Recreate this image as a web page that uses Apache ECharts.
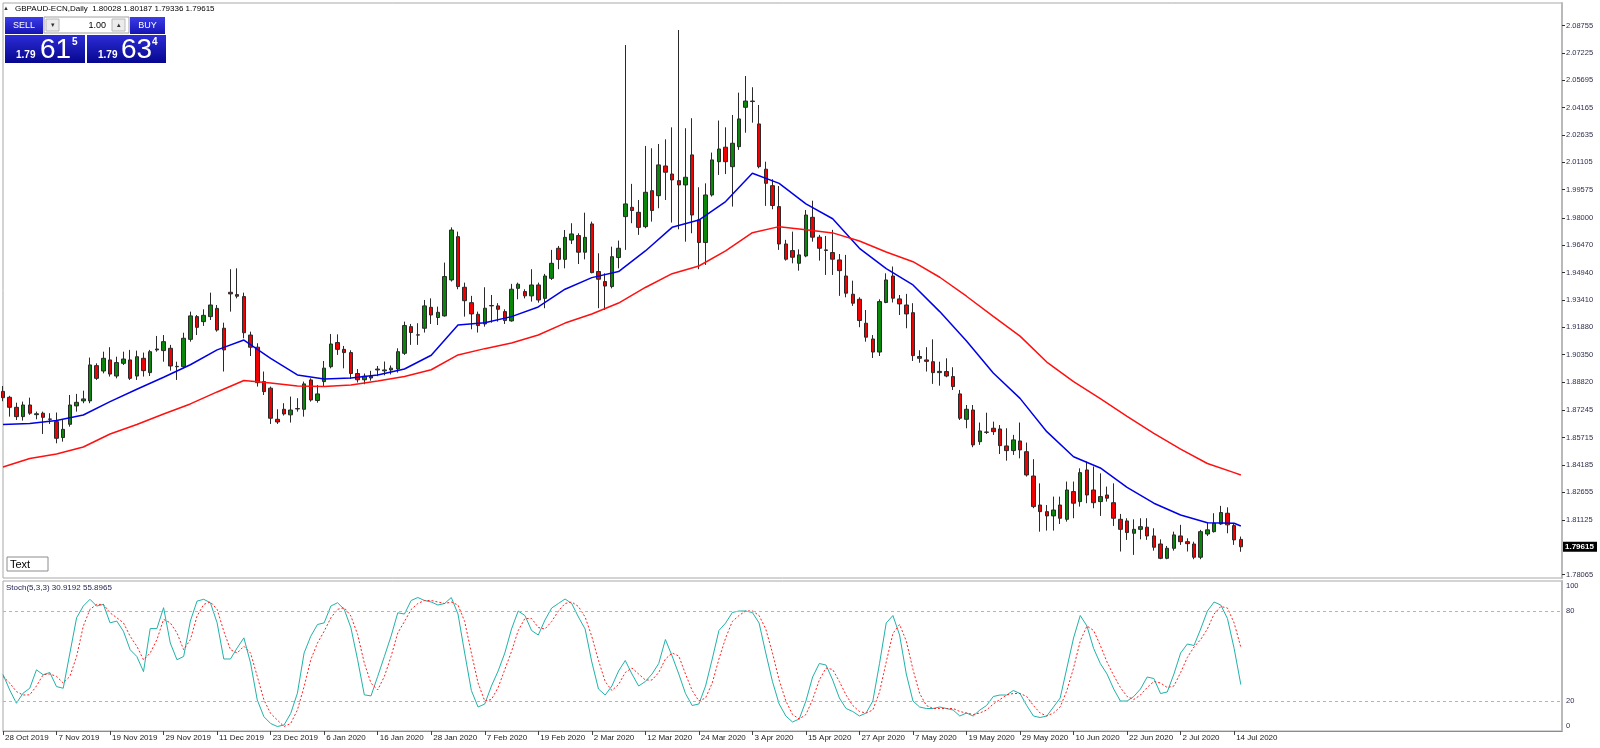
<!DOCTYPE html>
<html>
<head>
<meta charset="utf-8">
<title>GBPAUD-ECN,Daily</title>
<script src="https://cdn.jsdelivr.net/npm/echarts@6/dist/echarts.min.js"></script>
<style>
html, body { margin: 0; padding: 0; background: #fff; }
#main { width: 1600px; height: 748px; }
</style>
</head>
<body>
<div id="main"></div>
<script>
// bars: 28 Oct 2019 .. 15 Jul 2020, one per trading day
var tickLabels = ['28 Oct 2019', '7 Nov 2019', '19 Nov 2019', '29 Nov 2019', '11 Dec 2019', '23 Dec 2019',
  '6 Jan 2020', '16 Jan 2020', '28 Jan 2020', '7 Feb 2020', '19 Feb 2020', '2 Mar 2020', '12 Mar 2020',
  '24 Mar 2020', '3 Apr 2020', '15 Apr 2020', '27 Apr 2020', '7 May 2020', '19 May 2020', '29 May 2020',
  '10 Jun 2020', '22 Jun 2020', '2 Jul 2020', '14 Jul 2020'];

var opens = [
  1.8830, 1.8797, 1.8741, 1.8689, 1.8754, 1.8700, 1.8708, 1.8676, 1.8661, 1.8572,
  1.8646, 1.8749, 1.8777, 1.8777, 1.8974, 1.8944, 1.9006, 1.8916, 1.8987, 1.9006,
  1.8916, 1.9015, 1.8935, 1.9062, 1.9058, 1.9071, 1.8968, 1.8968, 1.9121, 1.9248,
  1.9220, 1.9248, 1.9294, 1.9183, 1.9384, 1.9371, 1.9360, 1.9145, 1.9077, 1.8885,
  1.8848, 1.8674, 1.8730, 1.8699, 1.8734, 1.8730, 1.8894, 1.8779, 1.8885, 1.8968,
  1.9103, 1.9065, 1.9047, 1.8930, 1.8895, 1.8915, 1.8950, 1.8945, 1.8950, 1.8955,
  1.9043, 1.9192, 1.9146, 1.9183, 1.9300, 1.9243, 1.9252, 1.9453, 1.9695, 1.9412,
  1.9326, 1.9261, 1.9207, 1.9308, 1.9308, 1.9276, 1.9224, 1.9406, 1.9388, 1.9364,
  1.9425, 1.9350, 1.9462, 1.9630, 1.9568, 1.9676, 1.9701, 1.9608, 1.9766, 1.9500,
  1.9444, 1.9416, 1.9578, 1.9807, 1.9859, 1.9831, 1.9751, 1.9952, 1.9924, 2.0090,
  2.0045, 2.0008, 1.9984, 2.0152, 1.9789, 1.9662, 1.9928, 2.0114, 2.0195, 2.0086,
  2.0198, 2.0418, 2.0453, 2.0325, 2.0072, 1.9980, 1.9863, 1.9654, 1.9617, 1.9546,
  1.9587, 1.9803, 1.9692, 1.9621, 1.9606, 1.9565, 1.9475, 1.9373, 1.9345, 1.9211,
  1.9123, 1.9050, 1.9327, 1.9475, 1.9347, 1.9313, 1.9270, 1.9025, 1.9006, 1.8996,
  1.8935, 1.8941, 1.8913, 1.8816, 1.8674, 1.8726, 1.8549, 1.8603, 1.8624, 1.8620,
  1.8525, 1.8499, 1.8553, 1.8493, 1.8357, 1.8195, 1.8158, 1.8134, 1.8195, 1.8115,
  1.8270, 1.8214, 1.8391, 1.8279, 1.8214, 1.8251, 1.8208, 1.8115, 1.8106, 1.8037,
  1.8059, 1.8071, 1.8022, 1.7977, 1.7897, 1.7953, 1.8022, 1.7990, 1.7977, 1.7903,
  1.8033, 1.8046, 1.8089, 1.8149, 1.8080, 1.80028
];
var highs = [
  1.8860, 1.8805, 1.8767, 1.8773, 1.8795, 1.8717, 1.8717, 1.8708, 1.8712, 1.8670,
  1.8810, 1.8816, 1.8834, 1.9019, 1.8987, 1.9052, 1.9077, 1.9024, 1.9052, 1.9062,
  1.9058, 1.9047, 1.9062, 1.9140, 1.9145, 1.9090, 1.8996, 1.9158, 1.9276, 1.9257,
  1.9289, 1.9382, 1.9313, 1.9214, 1.9513, 1.9518, 1.9382, 1.9164, 1.9099, 1.8941,
  1.8857, 1.8730, 1.8764, 1.8801, 1.8792, 1.8885, 1.8903, 1.8866, 1.9000, 1.9151,
  1.9149, 1.9084, 1.9060, 1.8955, 1.8930, 1.8945, 1.8972, 1.8997, 1.8975, 1.9071,
  1.9220, 1.9207, 1.9211, 1.9341, 1.9350, 1.9304, 1.9550, 1.9747, 1.9723, 1.9438,
  1.9364, 1.9276, 1.9412, 1.9369, 1.9323, 1.9289, 1.9431, 1.9438, 1.9401, 1.9513,
  1.9438, 1.9487, 1.9621, 1.9643, 1.9732, 1.9770, 1.9714, 1.9829, 1.9779, 1.9602,
  1.9490, 1.9639, 1.9673, 2.0766, 1.9990, 1.9900, 2.0202, 2.0189, 2.0213, 2.0239,
  2.0306, 2.0850, 2.0301, 2.0357, 1.9971, 1.9993, 2.0165, 2.0344, 2.0306, 2.0375,
  2.0500, 2.0593, 2.0530, 2.0431, 2.0114, 2.0016, 1.9978, 1.9677, 1.9723, 1.9624,
  1.9844, 1.9896, 1.9705, 1.9699, 1.9733, 1.9598, 1.9593, 1.9449, 1.9356, 1.9285,
  1.9145, 1.9345, 1.9490, 1.9528, 1.9369, 1.9375, 1.9323, 1.9060, 1.9077, 1.9121,
  1.8996, 1.9015, 1.8965, 1.8838, 1.8754, 1.8754, 1.8656, 1.8711, 1.8661, 1.8642,
  1.8624, 1.8587, 1.8656, 1.8544, 1.8451, 1.8316, 1.8195, 1.8242, 1.8242, 1.8326,
  1.8326, 1.8400, 1.8438, 1.8410, 1.8372, 1.8298, 1.8316, 1.8145, 1.8121, 1.8115,
  1.8121, 1.8121, 1.8065, 1.8003, 1.7966, 1.8046, 1.8084, 1.8009, 1.7990, 1.8056,
  1.8097, 1.8149, 1.8190, 1.8182, 1.8093, 1.80187
];
var lows = [
  1.8775, 1.8689, 1.8670, 1.8667, 1.8699, 1.8674, 1.8592, 1.8648, 1.8540, 1.8549,
  1.8633, 1.8717, 1.8764, 1.8764, 1.8894, 1.8931, 1.8913, 1.8903, 1.8978, 1.8894,
  1.8894, 1.8913, 1.8916, 1.9052, 1.8996, 1.8946, 1.8894, 1.8959, 1.9108, 1.9145,
  1.9196, 1.9229, 1.9164, 1.8941, 1.9276, 1.9350, 1.9127, 1.9028, 1.8857, 1.8810,
  1.8648, 1.8648, 1.8695, 1.8656, 1.8717, 1.8689, 1.8773, 1.8767, 1.8860, 1.8959,
  1.9034, 1.8959, 1.8900, 1.8880, 1.8870, 1.8890, 1.8915, 1.8920, 1.8925, 1.8935,
  1.9034, 1.9090, 1.9090, 1.9159, 1.9207, 1.9201, 1.9248, 1.9444, 1.9401, 1.9248,
  1.9177, 1.9159, 1.9192, 1.9214, 1.9220, 1.9207, 1.9220, 1.9345, 1.9350, 1.9332,
  1.9326, 1.9295, 1.9453, 1.9513, 1.9518, 1.9654, 1.9542, 1.9568, 1.9490, 1.9295,
  1.9285, 1.9406, 1.9518, 1.9621, 1.9770, 1.9705, 1.9742, 1.9779, 1.9854, 1.9900,
  1.9774, 1.9736, 1.9667, 1.9714, 1.9513, 1.9537, 1.9919, 2.0040, 2.0045, 1.9863,
  2.0180, 2.0276, 2.0332, 2.0077, 1.9867, 1.9848, 1.9621, 1.9561, 1.9546, 1.9505,
  1.9580, 1.9667, 1.9561, 1.9481, 1.9481, 1.9364, 1.9356, 1.9308, 1.9189, 1.9108,
  1.9017, 1.9028, 1.9323, 1.9327, 1.9257, 1.9183, 1.9000, 1.8990, 1.8941, 1.8872,
  1.8862, 1.8909, 1.8838, 1.8670, 1.8624, 1.8518, 1.8531, 1.8592, 1.8587, 1.8480,
  1.8443, 1.8475, 1.8456, 1.8354, 1.8177, 1.8046, 1.8052, 1.8052, 1.8089, 1.8102,
  1.8121, 1.8186, 1.8205, 1.8177, 1.8134, 1.8214, 1.8078, 1.7935, 1.8000, 1.7916,
  1.8003, 1.8000, 1.7940, 1.7892, 1.7892, 1.7940, 1.7972, 1.7935, 1.7892, 1.7892,
  1.8022, 1.8041, 1.8084, 1.8037, 1.7972, 1.79336
];
var closes = [
  1.8795, 1.8741, 1.8689, 1.8754, 1.8708, 1.8705, 1.8685, 1.8674, 1.8568, 1.8618,
  1.8754, 1.8769, 1.8788, 1.8978, 1.8903, 1.9015, 1.8927, 1.8991, 1.9011, 1.8903,
  1.9024, 1.8946, 1.9052, 1.9067, 1.9108, 1.8972, 1.8970, 1.9127, 1.9252, 1.9188,
  1.9255, 1.9313, 1.9173, 1.9062, 1.9375, 1.9362, 1.9158, 1.9077, 1.8879, 1.8829,
  1.8680, 1.8659, 1.8704, 1.8726, 1.8732, 1.8872, 1.8782, 1.8816, 1.8960, 1.9095,
  1.9065, 1.9047, 1.8930, 1.8895, 1.8915, 1.8905, 1.8955, 1.8950, 1.8960, 1.9052,
  1.9198, 1.9159, 1.9145, 1.9308, 1.9257, 1.9272, 1.9472, 1.9732, 1.9416, 1.9337,
  1.9263, 1.9198, 1.9295, 1.9310, 1.9289, 1.9226, 1.9401, 1.9429, 1.9364, 1.9425,
  1.9341, 1.9475, 1.9546, 1.9568, 1.9691, 1.9710, 1.9608, 1.9691, 1.9494, 1.9457,
  1.9419, 1.9583, 1.9630, 1.9878, 1.9841, 1.9747, 1.9943, 1.9841, 2.0096, 2.0055,
  2.0012, 1.9984, 2.0027, 1.9816, 1.9662, 1.9928, 2.0124, 2.0185, 2.0114, 2.0217,
  2.0353, 2.0453, 2.0450, 2.0086, 1.9993, 1.9869, 1.9654, 1.9569, 1.9580, 1.9593,
  1.9816, 1.9692, 1.9630, 1.9618, 1.9569, 1.9505, 1.9379, 1.9323, 1.9226, 1.9133,
  1.9050, 1.9332, 1.9453, 1.9351, 1.9319, 1.9263, 1.9030, 1.9015, 1.8998, 1.8935,
  1.8942, 1.8916, 1.8857, 1.8680, 1.8730, 1.8531, 1.8609, 1.8601, 1.8605, 1.8527,
  1.8499, 1.8559, 1.8503, 1.8363, 1.8186, 1.8158, 1.8134, 1.8167, 1.8121, 1.8279,
  1.8205, 1.8376, 1.8251, 1.8208, 1.8242, 1.8233, 1.8121, 1.8059, 1.8041, 1.8059,
  1.8074, 1.8022, 1.7959, 1.7897, 1.7953, 1.8028, 1.7990, 1.7979, 1.7903, 1.8046,
  1.8056, 1.8093, 1.8153, 1.8084, 1.8000, 1.79615
];
var askPrice = 1.79634;

// moving averages, read every 4th bar
var maIdx = [0, 4, 8, 12, 16, 20, 24, 28, 32, 36, 40, 44, 48, 52, 56, 60, 64, 68, 72, 76, 80, 84, 88, 92,
  96, 100, 104, 108, 112, 116, 120, 124, 128, 132, 136, 140, 144, 148, 152, 156, 160, 164, 168, 172, 176,
  180, 184, 185];
var maBlue = [1.8645, 1.8651, 1.8667, 1.8698, 1.8773, 1.8842, 1.8909, 1.8979, 1.9062, 1.9117, 1.9015, 1.8922,
  1.8899, 1.8905, 1.8922, 1.8955, 1.9032, 1.9201, 1.9214, 1.9248, 1.9302, 1.9401, 1.9466, 1.9500, 1.9615,
  1.9747, 1.9788, 1.9891, 2.0049, 1.9993, 1.9878, 1.9795, 1.9630, 1.9516, 1.9425, 1.9276, 1.9112, 1.8933,
  1.8791, 1.8605, 1.8465, 1.8402, 1.8294, 1.8205, 1.8139, 1.8096, 1.8093, 1.8078];
var maRed = [1.8407, 1.8455, 1.8480, 1.8519, 1.8592, 1.8645, 1.8704, 1.8760, 1.8827, 1.8891, 1.8877, 1.8860,
  1.8857, 1.8866, 1.8888, 1.8913, 1.8951, 1.9034, 1.9069, 1.9101, 1.9145, 1.9212, 1.9263, 1.9324, 1.9411,
  1.9488, 1.9531, 1.9615, 1.9717, 1.9751, 1.9734, 1.9716, 1.9671, 1.9609, 1.9555, 1.9468, 1.9362, 1.9249,
  1.9139, 1.8994, 1.8885, 1.8790, 1.8691, 1.8595, 1.8507, 1.8427, 1.8376, 1.8363];

// Stoch(5,3,3): main (%K) and signal (%D)
var stochK = [
  37.7, 27.4, 18.5, 25.2, 28.5, 40.8, 37.5, 39.0, 29.6, 28.5,
  52.0, 75.5, 83.3, 87.8, 83.3, 84.4, 72.1, 73.3, 66.5, 54.2,
  49.7, 39.6, 68.3, 68.3, 82.2, 58.7, 47.5, 49.7, 73.3, 86.6,
  87.8, 85.5, 72.1, 48.0, 48.0, 55.4, 62.1, 45.3, 20.7, 9.5,
  5.0, 3.0, 4.0, 11.7, 25.2, 52.0, 63.2, 71.0, 72.1, 83.3,
  85.5, 81.1, 68.8, 47.5, 24.1, 23.4, 36.4, 49.7, 63.2, 78.8,
  78, 87, 89, 87, 86, 84, 85, 89, 78, 52,
  27, 16, 18, 30, 40, 52, 68, 80, 77, 67,
  64, 74, 82, 85, 88, 85, 76, 68, 46, 28,
  24, 30, 40, 47, 38, 30, 33, 38, 45, 61,
  50, 38, 25, 17, 18, 30, 48, 67, 72, 79,
  80, 80, 79, 72, 52, 33, 18, 10, 6, 8,
  20, 36, 45, 44, 34, 22, 15, 13, 10, 12,
  20, 45, 72, 77, 64, 38, 20, 16, 15, 15,
  16, 15, 14, 10, 12, 10, 14, 17, 23, 24,
  24, 27, 25, 17, 10, 9, 10, 16, 22, 42,
  62, 77, 70, 55, 45, 38, 28, 20, 20, 23,
  28, 36, 35, 25, 26, 38, 52, 58, 57, 68,
  80, 86, 84, 75, 55, 30.9192
];
var stochD = [
  36.4, 32.0, 26.3, 24.0, 24.1, 30.0, 37.5, 38.0, 36.4, 32.0,
  36.4, 49.7, 69.9, 81.1, 84.4, 84.4, 78.8, 75.5, 72.1, 63.2,
  56.5, 47.5, 52.0, 60.9, 74.4, 72.1, 65.4, 54.2, 60.9, 76.6,
  84.4, 86.0, 81.1, 66.5, 54.2, 52.0, 56.5, 52.0, 36.4, 20.7,
  11.7, 7.3, 3.0, 5.0, 14.0, 29.6, 47.5, 58.7, 66.5, 75.5,
  81.1, 82.2, 76.6, 64.3, 45.3, 31.9, 27.4, 36.4, 49.7, 65.4,
  73, 81, 85, 87, 87, 86, 85, 86, 84, 73,
  52, 32, 20, 21, 29, 41, 53, 67, 75, 75,
  69, 68, 73, 80, 85, 86, 83, 76, 63, 47,
  33, 27, 31, 39, 42, 38, 34, 34, 39, 48,
  52, 50, 38, 27, 20, 22, 32, 48, 62, 73,
  77, 80, 80, 77, 68, 52, 34, 20, 11, 8,
  11, 21, 34, 42, 41, 33, 24, 17, 13, 12,
  14, 26, 46, 65, 71, 60, 41, 25, 17, 15,
  15, 15, 15, 13, 12, 11, 12, 14, 18, 21,
  24, 25, 25, 23, 17, 12, 10, 12, 16, 27,
  42, 60, 70, 67, 57, 46, 37, 29, 23, 21,
  24, 29, 33, 32, 29, 30, 39, 49, 56, 61,
  68, 78, 83, 82, 72, 55.8965
];

var priceTicks = [2.08755, 2.07225, 2.05695, 2.04165, 2.02635, 2.01105, 1.99575, 1.98000, 1.96470, 1.94940,
  1.93410, 1.91880, 1.90350, 1.88820, 1.87245, 1.85715, 1.84185, 1.82655, 1.81125, 1.78065];
var stochTicks = [0, 20, 80, 100];
var stochLevels = [20, 80];

var slotCount = 234; // bars that fit across the window (incl. empty shift area)
var barsPerLabel = 8;

var font = '"Liberation Sans", Arial, sans-serif';
var last = closes.length - 1;

var slots = [];
for (var s = 0; s < slotCount; s++) slots.push(String(s));

var candles = opens.map(function (o, i) { return [o, closes[i], lows[i], highs[i]]; });
var blueData = maIdx.map(function (x, k) { return [x, maBlue[k]]; });
var redData = maIdx.map(function (x, k) { return [x, maRed[k]]; });

function showTick(index) {
  return index % barsPerLabel === 0 && index / barsPerLabel < tickLabels.length;
}

var title = 'GBPAUD-ECN,Daily  ' + [opens[last], highs[last], lows[last], closes[last]]
  .map(function (v) { return v.toFixed(5); }).join(' ');
var stochTitle = 'Stoch(5,3,3) ' + stochK[last].toFixed(4) + ' ' + stochD[last].toFixed(4);

var bidTxt = closes[last].toFixed(5);
var askTxt = askPrice.toFixed(5);

var btnFill = { type: 'linear', x: 0, y: 0, x2: 0, y2: 1,
  colorStops: [{ offset: 0, color: '#3d3de8' }, { offset: 1, color: '#1414b4' }] };
var tileFill = { type: 'linear', x: 0, y: 0, x2: 0, y2: 1,
  colorStops: [{ offset: 0, color: '#2c2cd6' }, { offset: 1, color: '#06068f' }] };

function txt(x, y, text, size, opts) {
  opts = opts || {};
  return {
    type: 'text', x: x, y: y, silent: true, z: 100,
    style: {
      text: text, fill: opts.fill || '#000', align: opts.align || 'left', verticalAlign: 'middle',
      font: (opts.bold ? 'bold ' : '') + size + 'px ' + font
    }
  };
}

var chart = echarts.init(document.getElementById('main'));

var option = {
  animation: false,
  backgroundColor: '#ffffff',
  textStyle: { fontFamily: font },
  grid: [
    { left: 3, right: 38, top: 3, height: 575, show: true, borderColor: '#a8a8a8', borderWidth: 1 },
    { left: 3, right: 38, top: 581, height: 150, show: true, borderColor: '#a8a8a8', borderWidth: 1 }
  ],
  xAxis: [
    {
      type: 'category', gridIndex: 0, data: slots, boundaryGap: false,
      axisLine: { show: false }, axisTick: { show: false }, axisLabel: { show: false }, splitLine: { show: false }
    },
    {
      type: 'category', gridIndex: 1, data: slots, boundaryGap: false,
      axisLine: { show: true, lineStyle: { color: '#8c8c8c', width: 1 } },
      axisTick: { show: true, interval: showTick, length: 4, lineStyle: { color: '#404040' } },
      axisLabel: {
        interval: showTick, align: 'left', margin: 3, padding: [0, 0, 0, 2],
        fontSize: 8, color: '#1a1a1a',
        formatter: function (v) { return tickLabels[Number(v) / barsPerLabel] || ''; }
      },
      splitLine: { show: false }
    }
  ],
  yAxis: [
    {
      type: 'value', gridIndex: 0, position: 'right', min: 1.7787, max: 2.1001, scale: true,
      axisLine: { show: true, lineStyle: { color: '#b9b9b9', width: 2 } },
      axisTick: { show: true, customValues: priceTicks, length: 3, lineStyle: { color: '#303030' } },
      axisLabel: {
        customValues: priceTicks, margin: 4, fontSize: 7.5, color: '#2e2e4e',
        formatter: function (v) { return v.toFixed(5); }
      },
      splitLine: { show: false }
    },
    {
      type: 'value', gridIndex: 1, position: 'right', min: 0, max: 100,
      axisLine: { show: true, lineStyle: { color: '#b9b9b9', width: 2 } },
      axisTick: { show: false },
      axisLabel: {
        customValues: stochTicks, margin: 4, fontSize: 7.5, color: '#2e2e4e',
        formatter: function (v) {
          if (v === 100) return '{top|100}';
          if (v === 0) return '{bot|0}';
          return String(v);
        },
        rich: {
          top: { fontSize: 7.5, color: '#2e2e4e', padding: [10, 0, 0, 0] },
          bot: { fontSize: 7.5, color: '#2e2e4e', padding: [0, 0, 11, 0] }
        }
      },
      splitLine: { show: false }
    }
  ],
  series: [
    {
      name: 'GBPAUD', type: 'candlestick', xAxisIndex: 0, yAxisIndex: 0,
      data: candles, barWidth: 4,
      itemStyle: {
        color: '#0a860a', color0: '#f00000',
        borderColor: '#2a2a2a', borderColor0: '#2a2a2a', borderWidth: 1
      }
    },
    {
      name: 'MA fast', type: 'line', xAxisIndex: 0, yAxisIndex: 0, data: blueData,
      showSymbol: false, z: 3, lineStyle: { color: '#0000e6', width: 1.5 }
    },
    {
      name: 'MA slow', type: 'line', xAxisIndex: 0, yAxisIndex: 0, data: redData,
      showSymbol: false, z: 3, lineStyle: { color: '#ff1010', width: 1.5 }
    },
    {
      name: 'Stoch main', type: 'line', xAxisIndex: 1, yAxisIndex: 1, data: stochK,
      showSymbol: false, z: 3, lineStyle: { color: '#20b2aa', width: 1 },
      markLine: {
        silent: true, symbol: ['none', 'none'], animation: false,
        label: { show: false },
        lineStyle: { color: '#b4b4b4', width: 1, type: [3, 3] },
        data: stochLevels.map(function (v) { return { yAxis: v }; })
      }
    },
    {
      name: 'Stoch signal', type: 'line', xAxisIndex: 1, yAxisIndex: 1, data: stochD,
      showSymbol: false, z: 3, lineStyle: { color: '#ff2020', width: 1, type: [2, 2] }
    }
  ],
  graphic: [
    txt(3, 8.5, '\u25B2', 6, { fill: '#333' }),
    txt(15, 8.5, title, 8),
    // one click trading panel
    { type: 'rect', silent: true, shape: { x: 5, y: 17, width: 38, height: 17 }, style: { fill: btnFill } },
    txt(24, 25.5, 'SELL', 9, { fill: '#fff', align: 'center' }),
    { type: 'rect', silent: true, shape: { x: 44, y: 17, width: 85, height: 16 }, style: { fill: '#fff', stroke: '#a0a0a0', lineWidth: 1 } },
    { type: 'rect', silent: true, shape: { x: 46, y: 19, width: 13, height: 12 }, style: { fill: '#ececec', stroke: '#b8b8b8', lineWidth: 1 } },
    txt(52.5, 25, '\u25BE', 7, { fill: '#333', align: 'center' }),
    txt(106, 25.5, '1.00', 9, { align: 'right' }),
    { type: 'rect', silent: true, shape: { x: 112, y: 19, width: 13, height: 12 }, style: { fill: '#ececec', stroke: '#b8b8b8', lineWidth: 1 } },
    txt(118.5, 25, '\u25B4', 7, { fill: '#333', align: 'center' }),
    { type: 'rect', silent: true, shape: { x: 130, y: 17, width: 35, height: 17 }, style: { fill: btnFill } },
    txt(147.5, 25.5, 'BUY', 9, { fill: '#fff', align: 'center' }),
    { type: 'rect', silent: true, shape: { x: 5, y: 35, width: 80, height: 28 }, style: { fill: tileFill } },
    { type: 'rect', silent: true, shape: { x: 87, y: 35, width: 79, height: 28 }, style: { fill: tileFill } },
    txt(16, 55.5, bidTxt.slice(0, 4), 10, { fill: '#fff', bold: true }),
    txt(40, 50.5, bidTxt.slice(4, 6), 28, { fill: '#fff' }),
    txt(72, 42.5, bidTxt.slice(6), 10, { fill: '#fff', bold: true }),
    txt(98, 55.5, askTxt.slice(0, 4), 10, { fill: '#fff', bold: true }),
    txt(121, 50.5, askTxt.slice(4, 6), 28, { fill: '#fff' }),
    txt(152, 42.5, askTxt.slice(6), 10, { fill: '#fff', bold: true }),
    // text label object
    { type: 'rect', silent: true, shape: { x: 7, y: 557, width: 41, height: 14 }, style: { fill: '#fff', stroke: '#8c8c8c', lineWidth: 1 } },
    txt(10, 564.5, 'Text', 11),
    // indicator caption
    txt(6, 588, stochTitle, 8, { fill: '#1e1e50' })
  ]
};

chart.setOption(option);

// current bid tag on the price scale, placed through the y axis scale
var bidY = chart.convertToPixel({ yAxisIndex: 0 }, closes[last]);
var axisX = chart.convertToPixel({ xAxisIndex: 0 }, slotCount - 1);
option.graphic.push(
  { type: 'rect', silent: true, z: 100, shape: { x: axisX + 1, y: bidY - 5, width: 34, height: 10 }, style: { fill: '#000' } },
  txt(axisX + 3, bidY, bidTxt, 8, { fill: '#fff', bold: true })
);
chart.setOption(option, true);
</script>
</body>
</html>
